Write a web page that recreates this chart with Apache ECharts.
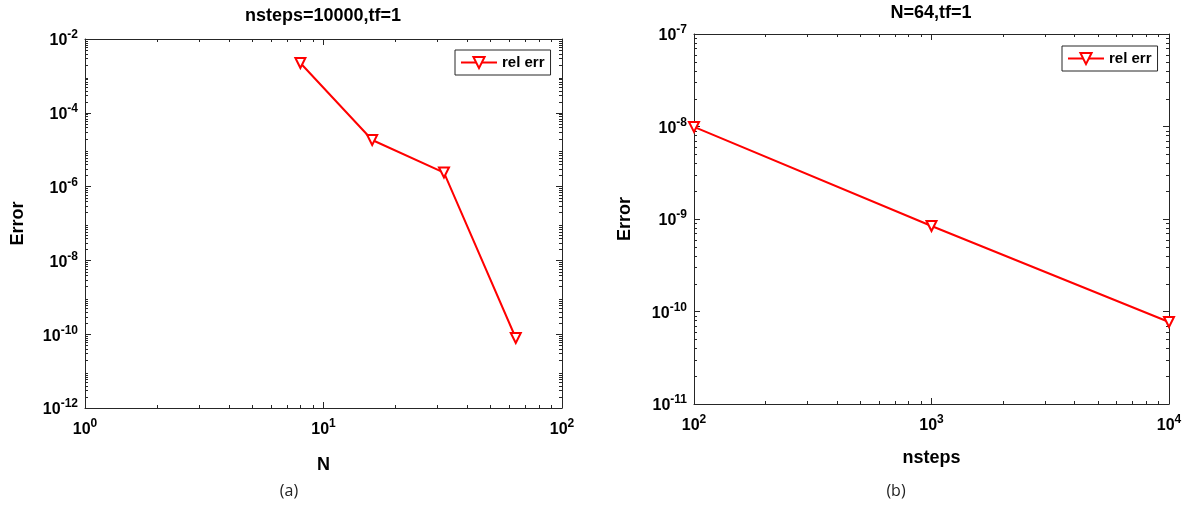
<!DOCTYPE html>
<html>
<head>
<meta charset="utf-8">
<script src="https://cdn.jsdelivr.net/npm/echarts@6/dist/echarts.min.js"></script>
<style>html,body{margin:0;padding:0;background:#fff}#c{width:1190px;height:505px}</style>
</head>
<body>
<div id="c"></div>
<script>
// ---- data ----
const leftTitle = 'nsteps=10000,tf=1';
const rightTitle = 'N=64,tf=1';
const seriesName = 'rel err';
const leftN = [8, 16, 32, 64];
const leftErr = [2.24e-3, 1.83e-5, 2.4e-6, 7.9e-11];
const rightSteps = [100, 1000, 10000];
const rightErr = [9.9e-9, 8.4e-10, 7.7e-11];
const leftXRange = [1, 100];
const leftYRange = [1e-12, 1e-2];
const rightXRange = [100, 10000];
const rightYRange = [1e-11, 1e-7];
const captions = ['(a)', '(b)'];

// ---- helpers ----
const FONT = '"Liberation Sans", Arial, sans-serif';
const AX = '#262626';
function minorValues(lo, hi) {
  const out = [];
  for (let e = Math.round(Math.log10(lo)); e < Math.round(Math.log10(hi)); e++) {
    for (let m = 2; m <= 9; m++) out.push(m * Math.pow(10, e));
  }
  return out;
}
const rich = {
  b: {fontSize: 16, fontWeight: 'bold', fontFamily: FONT, color: '#000', lineHeight: 20, verticalAlign: 'bottom'},
  s: {fontSize: 12, fontWeight: 'bold', fontFamily: FONT, color: '#000', lineHeight: 10, verticalAlign: 'top'}
};
function powLabel(v) {
  const e = Math.round(Math.log10(v));
  return '{b|10}{s|' + e + '}';
}
const nameStyle = {fontSize: 18, fontWeight: 'bold', fontFamily: FONT, color: '#000'};
function mainX(grid, range, name, gap) {
  return {type: 'log', logBase: 10, gridIndex: grid, min: range[0], max: range[1], interval: 1,
    position: 'bottom', name: name, nameLocation: 'middle', nameGap: gap,
    nameTextStyle: nameStyle,
    axisLine: {show: true, lineStyle: {color: AX, width: 1}},
    axisTick: {show: true, inside: true, length: 6, lineStyle: {color: AX}},
    axisLabel: {show: true, margin: 10, formatter: powLabel, rich: rich},
    splitLine: {show: false}};
}
function mainY(grid, range, interval, gap) {
  return {type: 'log', logBase: 10, gridIndex: grid, min: range[0], max: range[1], interval: interval,
    position: 'left', name: 'Error', nameLocation: 'middle', nameGap: gap, nameRotate: 90,
    nameTextStyle: nameStyle,
    axisLine: {show: true, lineStyle: {color: AX, width: 1}},
    axisTick: {show: true, inside: true, length: 6, lineStyle: {color: AX}},
    axisLabel: {show: true, margin: 7, formatter: powLabel, rich: rich, align: 'right'},
    splitLine: {show: false}};
}
function dupAxis(base, pos) {
  return Object.assign({}, base, {position: pos, name: '', axisLabel: {show: false}});
}
function minorSeries(xi, yi, dir, xr, yr) {
  const vals = dir === 'x' ? minorValues(xr[0], xr[1]) : minorValues(yr[0], yr[1]);
  const data = vals.map(v => dir === 'x' ? [v, yr[0]] : [xr[0], v]);
  return {
    type: 'custom', xAxisIndex: xi, yAxisIndex: yi, silent: true, z: 1, clip: false,
    data: data,
    renderItem: function (params, api) {
      const cs = params.coordSys;
      const p = api.coord([api.value(0), api.value(1)]);
      const len = 3;
      const st = {stroke: AX, lineWidth: 1};
      if (dir === 'x') {
        const x = Math.round(p[0]) + 0.5;
        const yb = cs.y + cs.height, yt = cs.y;
        return {type: 'group', children: [
          {type: 'line', shape: {x1: x, y1: yb, x2: x, y2: yb - len}, style: st},
          {type: 'line', shape: {x1: x, y1: yt, x2: x, y2: yt + len}, style: st}
        ]};
      } else {
        const y = Math.round(p[1]) + 0.5;
        const xl = cs.x, xr2 = cs.x + cs.width;
        return {type: 'group', children: [
          {type: 'line', shape: {x1: xl, y1: y, x2: xl + len, y2: y}, style: st},
          {type: 'line', shape: {x1: xr2, y1: y, x2: xr2 - len, y2: y}, style: st}
        ]};
      }
    }
  };
}
function lineSeries(xi, yi, xs, ys) {
  return {
    type: 'line', name: seriesName, xAxisIndex: xi, yAxisIndex: yi,
    data: xs.map((x, i) => [x, ys[i]]),
    symbol: 'emptyTriangle', symbolRotate: 180, symbolSize: 10, showSymbol: true,
    lineStyle: {color: '#ff0000', width: 2},
    itemStyle: {color: '#ff0000', borderColor: '#ff0000', borderWidth: 1.5},
    z: 5, animation: false
  };
}

const x0 = mainX(0, leftXRange, 'N', 48);
const y0 = mainY(0, leftYRange, 2, 58);
const x1 = mainX(1, rightXRange, 'nsteps', 45);
const y1 = mainY(1, rightYRange, 1, 60);

const legendBase = {
  data: [seriesName], orient: 'vertical', itemWidth: 36, itemHeight: 14, itemGap: 0,
  padding: [5, 6, 5, 5], borderColor: AX, borderWidth: 1, backgroundColor: '#fff',
  selectedMode: false,
  textStyle: {fontSize: 15, fontWeight: 'bold', fontFamily: FONT, color: '#000'}
};
const titleStyle = {fontSize: 18, fontWeight: 'bold', fontFamily: FONT, color: '#000'};
const capStyle = {fontSize: 16, fontWeight: 'normal', fontFamily: '"Open Sans", sans-serif', color: '#222'};

const option = {
  animation: false,
  backgroundColor: '#fff',
  title: [
    {text: leftTitle, left: 323, top: 7, padding: 0, textAlign: 'center', textStyle: titleStyle},
    {text: rightTitle, left: 931, top: 4, padding: 0, textAlign: 'center', textStyle: titleStyle},
    {text: captions[0], left: 289, top: 483, padding: 0, textAlign: 'center', textStyle: capStyle},
    {text: captions[1], left: 896, top: 483, padding: 0, textAlign: 'center', textStyle: capStyle}
  ],
  legend: [
    Object.assign({}, legendBase, {left: 455, top: 50}),
    Object.assign({}, legendBase, {left: 1062, top: 46})
  ],
  grid: [
    {left: 85, top: 39, width: 477, height: 369},
    {left: 694, top: 34, width: 475, height: 370}
  ],
  xAxis: [x0, dupAxis(x0, 'top'), x1, dupAxis(x1, 'top')],
  yAxis: [y0, dupAxis(y0, 'right'), y1, dupAxis(y1, 'right')],
  series: [
    minorSeries(0, 0, 'x', leftXRange, leftYRange),
    minorSeries(0, 0, 'y', leftXRange, leftYRange),
    minorSeries(2, 2, 'x', rightXRange, rightYRange),
    minorSeries(2, 2, 'y', rightXRange, rightYRange),
    lineSeries(0, 0, leftN, leftErr),
    lineSeries(2, 2, rightSteps, rightErr)
  ]
};
option.xAxis[1].gridIndex = 0; option.xAxis[3].gridIndex = 1;
option.yAxis[1].gridIndex = 0; option.yAxis[3].gridIndex = 1;

const chart = echarts.init(document.getElementById('c'), null, {renderer: 'canvas'});
chart.setOption(option);
</script>
</body>
</html>
